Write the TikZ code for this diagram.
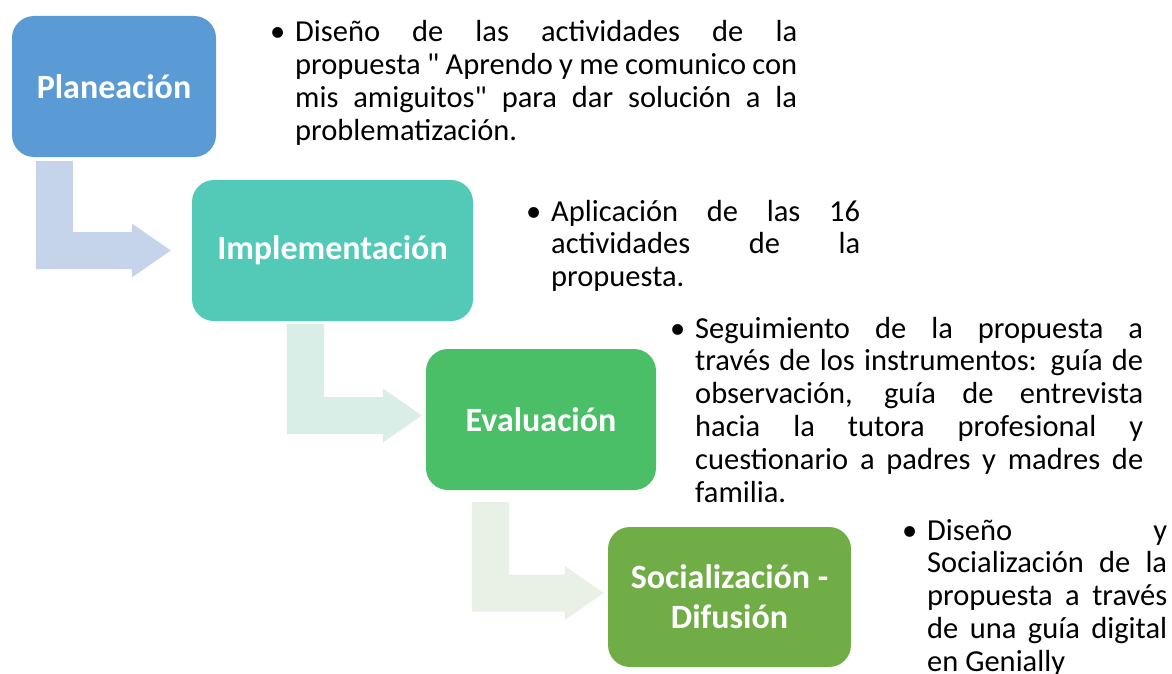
\documentclass[tikz,border=0pt]{standalone}
\usepackage{fontspec}
\setmainfont{Carlito}[Ligatures=TeXOff]
\usetikzlibrary{calc}
\definecolor{c1}{HTML}{5B9BD5}
\definecolor{c2}{HTML}{53CAB7}
\definecolor{c3}{HTML}{4BBF67}
\definecolor{c4}{HTML}{70AD47}
\definecolor{a1}{HTML}{C5D4EA}
\definecolor{a2}{HTML}{DAEEE8}
\definecolor{a3}{HTML}{E9F0E6}
\newcommand{\jl}[2]{\makebox[#1][s]{#2}}
\newcommand{\bul}{\strut\llap{\textbullet\hspace{10pt}}}
\newcommand{\steparrow}[3]{%
  \fill[#1] (#2) -- ++(37,0) |- ($(#3)+(-39,-18.5)$) -- ++(0,-8.5) -- (#3)
    -- ++(-39,27) -- ++(0,-8.5) -| (#2) -- cycle;}
\begin{document}
\begin{tikzpicture}[x=1pt,y=-1pt,
  stage/.style={rounded corners=22pt, text=white, font=\fontsize{34}{40}\selectfont\bfseries, align=center, inner sep=0pt},
  desc/.style={anchor=north west, inner sep=0pt, align=left, font=\fontsize{30.5}{32.8}\selectfont},
]
\useasboundingbox (0,0) rectangle (1172,674);
\node[stage, fill=c1, minimum width=204, minimum height=141] (p) at (114,86.5) {Planeación};
\node[stage, fill=c2, minimum width=281, minimum height=141] (i) at (332.5,250.5) {Implementación};
\node[stage, fill=c3, minimum width=230, minimum height=141] (e) at (541,419.5) {Evaluación};
\node[stage, fill=c4, minimum width=243, minimum height=140] (s) at (729.5,597) {Socialización -\\Difusión};

\coordinate (a1t) at ($(p.south west)+(24,4)$);
\coordinate (a1h) at ($(i.west)+(-21,0)$);
\coordinate (a2t) at ($(i.south west)+(95,3)$);
\coordinate (a2h) at ($(e.west)+(-4,-4)$);
\coordinate (a3t) at ($(e.south west)+(46,12)$);
\coordinate (a3h) at ($(s.west)+(-4,-4)$);
\steparrow{a1}{a1t}{a1h}
\steparrow{a2}{a2t}{a2h}
\steparrow{a3}{a3t}{a3h}

\node[desc] (t1) at (295,18.7) {\bul\jl{502pt}{Diseño de las actividades de la}\\
  \jl{502pt}{propuesta " Aprendo y me comunico con}\\
  \jl{502pt}{mis amiguitos" para dar solución a la}\\
  problematización.};
\node[desc] (t2) at (551,198) {\bul\jl{309pt}{Aplicación de las 16}\\
  \jl{309pt}{actividades de la}\\
  propuesta.};
\node[desc] (t3) at (695,315) {\bul\jl{448pt}{Seguimiento de la propuesta a}\\
  \jl{448pt}{través de los instrumentos: guía de}\\
  \jl{448pt}{observación, guía de entrevista}\\
  \jl{448pt}{hacia la tutora profesional y}\\
  \jl{448pt}{cuestionario a padres y madres de}\\
  familia.};
\node[desc] (t4) at (927,517) {\bul\jl{240pt}{Diseño y}\\
  \jl{240pt}{Socialización de la}\\
  \jl{240pt}{propuesta a través}\\
  \jl{240pt}{de una guía digital}\\
  en Genially};
\end{tikzpicture}
\end{document}
